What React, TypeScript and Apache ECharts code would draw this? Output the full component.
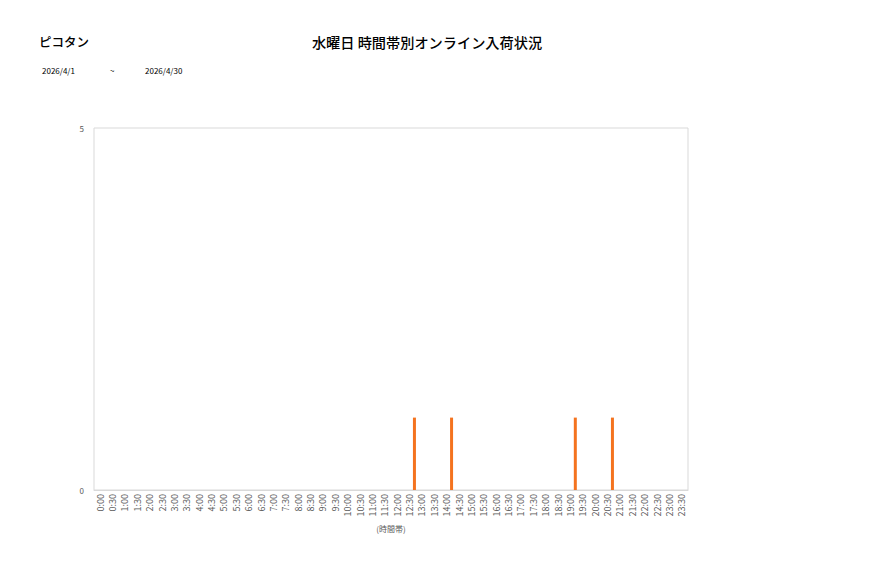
import * as echarts from 'echarts';
import { useEffect, useRef } from 'react';

const timeSlots = [
  '0:00', '0:30', '1:00', '1:30', '2:00', '2:30', '3:00', '3:30',
  '4:00', '4:30', '5:00', '5:30', '6:00', '6:30', '7:00', '7:30',
  '8:00', '8:30', '9:00', '9:30', '10:00', '10:30', '11:00', '11:30',
  '12:00', '12:30', '13:00', '13:30', '14:00', '14:30', '15:00', '15:30',
  '16:00', '16:30', '17:00', '17:30', '18:00', '18:30', '19:00', '19:30',
  '20:00', '20:30', '21:00', '21:30', '22:00', '22:30', '23:00', '23:30',
];

const arrivals = [
  0, 0, 0, 0, 0, 0, 0, 0,
  0, 0, 0, 0, 0, 0, 0, 0,
  0, 0, 0, 0, 0, 0, 0, 0,
  0, 0, 1, 0, 0, 1, 0, 0,
  0, 0, 0, 0, 0, 0, 0, 1,
  0, 0, 1, 0, 0, 0, 0, 0,
];

const shopName = 'ピコタン';
const chartTitle = '水曜日 時間帯別オンライン入荷状況';
const dateFrom = '2026/4/1';
const dateTo = '2026/4/30';
const yTicks = [0, 5];

const font = '"Noto Sans CJK JP", "Noto Sans", sans-serif';

export default function App() {
  const chartRef = useRef<HTMLDivElement>(null);

  useEffect(() => {
    if (!chartRef.current) return;
    const chart = echarts.init(chartRef.current, null, { renderer: 'svg' });

    const small = { fontSize: 8, fontWeight: 'normal', color: '#000', fontFamily: font };

    chart.setOption({
      animation: false,
      backgroundColor: '#ffffff',
      textStyle: { fontFamily: font },
      title: [
        {
          text: shopName,
          left: 39,
          top: 35,
          padding: 0,
          textStyle: { fontSize: 12.5, fontWeight: 500, color: '#000', fontFamily: font },
        },
        {
          text: chartTitle,
          left: 427,
          textAlign: 'center',
          top: 35,
          padding: 0,
          textStyle: { fontSize: 14.2, fontWeight: 500, color: '#000', fontFamily: font },
        },
        { text: dateFrom, left: 42, top: 66, padding: 0, textStyle: small },
        { text: '~', left: 110, top: 66, padding: 0, textStyle: small },
        { text: dateTo, left: 145, top: 66, padding: 0, textStyle: small },
      ],
      grid: {
        left: 94,
        top: 128,
        width: 594,
        height: 362,
        show: true,
        borderColor: '#d9d9d9',
        borderWidth: 1,
        backgroundColor: '#ffffff',
      },
      xAxis: {
        type: 'category',
        data: timeSlots,
        boundaryGap: true,
        name: '(時間帯)',
        nameLocation: 'middle',
        nameGap: 34,
        nameTextStyle: { fontSize: 8, color: '#595959' },
        axisLine: { show: true, lineStyle: { color: '#d9d9d9' } },
        axisTick: { show: false },
        axisLabel: {
          rotate: 90,
          interval: 0,
          fontSize: 9,
          color: '#595959',
          margin: 4,
        },
        splitLine: { show: false },
      },
      yAxis: {
        type: 'value',
        min: yTicks[0],
        max: yTicks[yTicks.length - 1],
        interval: 5,
        axisLine: { show: false },
        axisTick: { show: false },
        splitLine: { show: false },
        axisLabel: { fontSize: 8, color: '#595959', margin: 10 },
      },
      series: [
        {
          type: 'bar',
          data: arrivals,
          barWidth: 3,
          barGap: '400%',
          itemStyle: { color: '#f4731f' },
        },
        {
          // empty companion series: keeps the drawn bars to the left of each slot
          type: 'bar',
          data: timeSlots.map(() => '-'),
          barWidth: 3,
          silent: true,
        },
      ],
    });

    return () => {
      chart.dispose();
    };
  }, []);

  return (
    <div
      ref={chartRef}
      style={{ position: 'fixed', left: 0, top: 0, width: '877px', height: '578px' }}
    />
  );
}
